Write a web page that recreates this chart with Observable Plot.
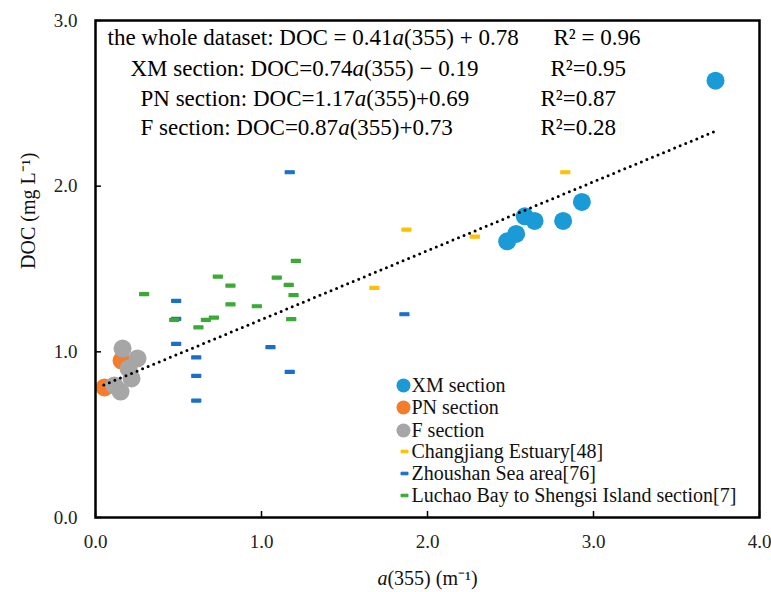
<!DOCTYPE html>
<html><head><meta charset="utf-8">
<script src="https://cdn.jsdelivr.net/npm/d3@7"></script>
<script src="https://cdn.jsdelivr.net/npm/@observablehq/plot@0.6"></script>
<style>body{margin:0;background:#fff} svg, svg text{font-family:'Liberation Serif','Times New Roman',serif !important;}</style>
</head><body><div id="chart"></div>
<script>
// ---- data ----
const xmA = [3.735, 2.93, 2.586, 2.645, 2.817, 2.534, 2.48];
const xmDOC = [2.637, 1.905, 1.818, 1.79, 1.79, 1.712, 1.667];
const pnA = [0.054, 0.157];
const pnDOC = [0.785, 0.947];
const fA = [0.163, 0.253, 0.199, 0.217, 0.114, 0.151];
const fDOC = [1.02, 0.96, 0.899, 0.839, 0.797, 0.76];
const cjA = [2.83, 1.873, 2.285, 1.68];
const cjDOC = [2.084, 1.738, 1.696, 1.386];
const zsA = [1.17, 0.486, 0.486, 0.486, 0.607, 0.607, 0.607, 1.054, 1.17, 1.861];
const zsDOC = [2.084, 1.308, 1.199, 1.048, 0.966, 0.855, 0.706, 1.028, 0.879, 1.227];
const lbA = [0.293, 0.474, 0.62, 0.665, 0.713, 0.737, 0.813, 0.813, 0.972, 1.092, 1.164, 1.193, 1.207, 1.179];
const lbDOC = [1.348, 1.193, 1.148, 1.193, 1.207, 1.454, 1.40, 1.287, 1.275, 1.448, 1.404, 1.342, 1.549, 1.197];
const trendA = [0.05, 3.73];
const trendDOC = [0.80, 2.33];
const xTicks = [0, 1, 2, 3, 4];
const yTicks = [0, 1, 2, 3];
const eqLeft = [
  "the whole dataset: DOC = 0.41a(355) + 0.78",
  "XM section: DOC=0.74a(355) − 0.19",
  "PN section: DOC=1.17a(355)+0.69",
  "F section: DOC=0.87a(355)+0.73"
];
const eqRight = ["R² = 0.96", "R²=0.95", "R²=0.87", "R²=0.28"];
const legendLabels = ["XM section", "PN section", "F section",
  "Changjiang Estuary[48]", "Zhoushan Sea area[76]", "Luchao Bay to Shengsi Island section[7]"];
const xLabel = "a(355) (m⁻¹)";
const yLabel = "DOC (mg L⁻¹)";

// ---- styles ----
const colors = ["#1a9bd7", "#f47c2b", "#a6a6a6", "#ffc000", "#1a6fca", "#3aaa35"];
const serif = "'Liberation Serif', 'Times New Roman', serif";
const dashSymbol = {draw(ctx) { ctx.moveTo(-4.5, -1.5); ctx.lineTo(4.5, -1.5); ctx.lineTo(4.5, 1.5); ctx.lineTo(-4.5, 1.5); ctx.closePath(); }};
const legDash = {draw(ctx) { ctx.moveTo(-3.5, -1.3); ctx.lineTo(3.5, -1.3); ctx.lineTo(3.5, 1.3); ctx.lineTo(-3.5, 1.3); ctx.closePath(); }};

const pts = (xs, ys) => xs.map((a, i) => ({a, doc: ys[i]}));
const circles = [[xmA, xmDOC], [pnA, pnDOC], [fA, fDOC]];
const dashes = [[cjA, cjDOC], [zsA, zsDOC], [lbA, lbDOC]];

const marks = [];
// inward ticks
marks.push(Plot.ruleX(xTicks, {x: d => d, insetTop: 491, stroke: "black", strokeWidth: 1.5}));
marks.push(Plot.ruleY(yTicks, {y: d => d, insetRight: 658, stroke: "black", strokeWidth: 1.5}));
marks.push(Plot.axisX(xTicks, {tickSize: 0, tickPadding: 17, fontSize: 19, fontFamily: serif, tickFormat: d => d.toFixed(1), label: null, fill: "#222"}));
marks.push(Plot.axisY(yTicks, {tickSize: 0, tickPadding: 18, fontSize: 19, fontFamily: serif, tickFormat: d => d.toFixed(1), label: null, fill: "#222"}));

dashes.forEach(([xs, ys], k) => marks.push(Plot.dot(pts(xs, ys), {x: "a", y: "doc", symbol: dashSymbol, fill: colors[k + 3], stroke: colors[k + 3], strokeWidth: 1.2, strokeLinejoin: "round"})));
circles.forEach(([xs, ys], k) => marks.push(Plot.dot(pts(xs, ys), {x: "a", y: "doc", r: 9, fill: colors[k], stroke: null})));
marks.push(Plot.line(pts(trendA, trendDOC), {x: "a", y: "doc", stroke: "black", strokeWidth: 3, strokeDasharray: "0,6", strokeLinecap: "round"}));
marks.push(Plot.frame({stroke: "black", strokeWidth: 2.5}));

// equations
const eqLeftDx = [12, 35, 45, 45];
const eqRightDx = [458, 455, 445, 445];
const eqDy = [17.5, 48, 78.5, 107];
eqLeft.forEach((t, i) => {
  marks.push(Plot.text([t], {text: d => d, frameAnchor: "top-left", dx: eqLeftDx[i], dy: eqDy[i], textAnchor: "start", lineAnchor: "middle", fontSize: 23, fontFamily: serif, fill: "black"}));
  marks.push(Plot.text([eqRight[i]], {text: d => d, frameAnchor: "top-left", dx: eqRightDx[i], dy: eqDy[i], textAnchor: "start", lineAnchor: "middle", fontSize: 23, fontFamily: serif, fill: "black"}));
});

// legend
const legDy = [365, 387, 410, 431, 453, 475];
legendLabels.forEach((t, i) => {
  if (i < 3) marks.push(Plot.dot([t], {frameAnchor: "top-left", dx: 308, dy: legDy[i], r: 7, fill: colors[i]}));
  else marks.push(Plot.dot([t], {frameAnchor: "top-left", dx: 309, dy: legDy[i], symbol: legDash, fill: colors[i], stroke: colors[i], strokeWidth: 1, strokeLinejoin: "round"}));
  marks.push(Plot.text([t], {text: d => d, frameAnchor: "top-left", dx: 316, dy: legDy[i], textAnchor: "start", lineAnchor: "middle", fontSize: 20, fontFamily: serif, fill: "#111"}));
});

// axis titles
marks.push(Plot.text([xLabel], {text: d => d, frameAnchor: "bottom", dy: 61, lineAnchor: "middle", fontSize: 20, fontFamily: serif, fill: "#111"}));
marks.push(Plot.text([yLabel], {text: d => d, frameAnchor: "left", dx: -67, rotate: -90, lineAnchor: "middle", fontSize: 20, fontFamily: serif, fill: "#111"}));

const chart = Plot.plot({
  width: 771, height: 592,
  marginLeft: 95, marginRight: 12, marginTop: 20, marginBottom: 75,
  x: {domain: [0, 4]},
  y: {domain: [0, 3]},
  style: {fontFamily: serif, background: "white", color: "black"},
  marks
});

// italicise the "a" of a(355)
d3.select(chart).selectAll("text").each(function() {
  const el = this;
  if (el.querySelector("tspan")) return;
  const s = el.textContent;
  if (!s.includes("a(355)")) return;
  const parts = s.split("a(355)");
  el.textContent = "";
  parts.forEach((p, i) => {
    if (i > 0) {
      const it = document.createElementNS("http://www.w3.org/2000/svg", "tspan");
      it.setAttribute("font-style", "italic");
      it.textContent = "a";
      el.appendChild(it);
      el.appendChild(document.createTextNode("(355)"));
    }
    if (p) el.appendChild(document.createTextNode(p));
  });
});

document.getElementById("chart").appendChild(chart);
</script></body></html>
